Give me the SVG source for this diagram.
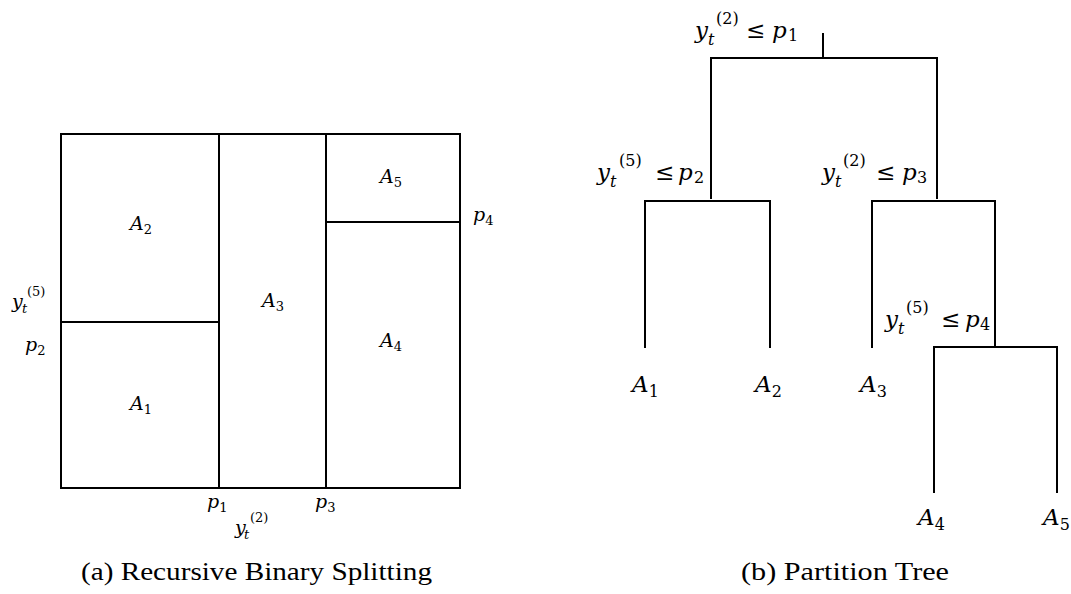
<svg xmlns="http://www.w3.org/2000/svg" width="1071" height="594" viewBox="0 0 1071 594">
<style>
.ln{stroke:#000;stroke-width:2;fill:none;stroke-linecap:square}
.m{font-family:"DejaVu Serif","Liberation Serif",serif;font-style:italic;fill:#000}
.r{font-style:normal}
.cap{font-family:"Liberation Serif","Times New Roman",serif;font-size:25px;fill:#000}
.L{font-size:19px}
.Ls{font-size:13px}
.T{font-size:23px}
.Ts{font-size:16px}
</style>
<rect width="1071" height="594" fill="#fff"/>
<!-- Left panel: recursive binary splitting -->
<g id="partition">
<rect class="ln" x="61" y="134" width="399" height="354"/>
<line class="ln" x1="219" y1="134" x2="219" y2="488"/>
<line class="ln" x1="326" y1="134" x2="326" y2="488"/>
<line class="ln" x1="61" y1="322" x2="219" y2="322"/>
<line class="ln" x1="326" y1="222" x2="460" y2="222"/>
</g>
<g id="region-labels">
<text class="m L" x="130" y="230">A<tspan class="r Ls" dy="4">2</tspan></text>
<text class="m L" x="130" y="410">A<tspan class="r Ls" dy="4">1</tspan></text>
<text class="m L" x="262" y="307">A<tspan class="r Ls" dy="4">3</tspan></text>
<text class="m L" x="380" y="347">A<tspan class="r Ls" dy="4">4</tspan></text>
<text class="m L" x="380" y="183">A<tspan class="r Ls" dy="4">5</tspan></text>
</g>
<g id="axis-labels">
<text class="m L" x="12" y="308">y<tspan class="Ls" x="22" dy="5">t</tspan><tspan class="r Ls" x="27" dy="-17">(5)</tspan></text>
<text class="m L" x="25" y="351">p<tspan class="r Ls" dy="4">2</tspan></text>
<text class="m L" x="207" y="508">p<tspan class="r Ls" dy="4">1</tspan></text>
<text class="m L" x="315" y="508">p<tspan class="r Ls" dy="4">3</tspan></text>
<text class="m L" x="473" y="221">p<tspan class="r Ls" dy="4">4</tspan></text>
<text class="m L" x="235" y="534">y<tspan class="Ls" x="244" dy="5">t</tspan><tspan class="r Ls" x="250" dy="-17">(2)</tspan></text>
</g>
<text class="cap" x="81" y="580" textLength="351" lengthAdjust="spacingAndGlyphs">(a) Recursive Binary Splitting</text>
<!-- Right panel: partition tree -->
<g id="connectors">
<line class="ln" x1="823" y1="34" x2="823" y2="58"/>
<line class="ln" x1="711" y1="58" x2="937" y2="58"/>
<line class="ln" x1="711" y1="58" x2="711" y2="198"/>
<line class="ln" x1="937" y1="58" x2="937" y2="198"/>
<line class="ln" x1="645" y1="201" x2="770" y2="201"/>
<line class="ln" x1="645" y1="201" x2="645" y2="347"/>
<line class="ln" x1="770" y1="201" x2="770" y2="347"/>
<line class="ln" x1="872" y1="201" x2="995" y2="201"/>
<line class="ln" x1="872" y1="201" x2="872" y2="347"/>
<line class="ln" x1="995" y1="201" x2="995" y2="347"/>
<line class="ln" x1="934" y1="347" x2="1057" y2="347"/>
<line class="ln" x1="934" y1="347" x2="934" y2="492"/>
<line class="ln" x1="1057" y1="347" x2="1057" y2="492"/>
</g>
<g id="node-root"><text class="m T" x="695" y="38">y<tspan class="Ts" x="708" dy="7">t</tspan><tspan class="r Ts" x="716" dy="-21">(2)</tspan><tspan class="r" x="746" dy="14">≤</tspan><tspan x="772">p</tspan><tspan class="r Ts" x="788" dy="3">1</tspan></text></g>
<g id="node-split2"><text class="m T" x="597" y="180">y<tspan class="Ts" x="610" dy="7">t</tspan><tspan class="r Ts" x="619" dy="-21">(5)</tspan><tspan class="r" x="655" dy="14">≤</tspan><tspan x="678">p</tspan><tspan class="r Ts" x="694" dy="3">2</tspan></text></g>
<g id="node-split3"><text class="m T" x="822" y="180">y<tspan class="Ts" x="835" dy="7">t</tspan><tspan class="r Ts" x="843" dy="-21">(2)</tspan><tspan class="r" x="876" dy="14">≤</tspan><tspan x="902">p</tspan><tspan class="r Ts" x="917" dy="3">3</tspan></text></g>
<g id="node-split4"><text class="m T" x="885" y="327">y<tspan class="Ts" x="898" dy="7">t</tspan><tspan class="r Ts" x="906" dy="-21">(5)</tspan><tspan class="r" x="941" dy="14">≤</tspan><tspan x="965">p</tspan><tspan class="r Ts" x="980" dy="3">4</tspan></text></g>
<g id="leaf-A1"><text class="m T" x="632" y="392">A<tspan class="r Ts" dy="5">1</tspan></text></g>
<g id="leaf-A2"><text class="m T" x="755" y="392">A<tspan class="r Ts" dy="5">2</tspan></text></g>
<g id="leaf-A3"><text class="m T" x="860" y="392">A<tspan class="r Ts" dy="5">3</tspan></text></g>
<g id="leaf-A4"><text class="m T" x="918" y="525">A<tspan class="r Ts" dy="5">4</tspan></text></g>
<g id="leaf-A5"><text class="m T" x="1043" y="525">A<tspan class="r Ts" dy="5">5</tspan></text></g>
<text class="cap" x="741" y="580" textLength="208" lengthAdjust="spacingAndGlyphs">(b) Partition Tree</text>
</svg>
